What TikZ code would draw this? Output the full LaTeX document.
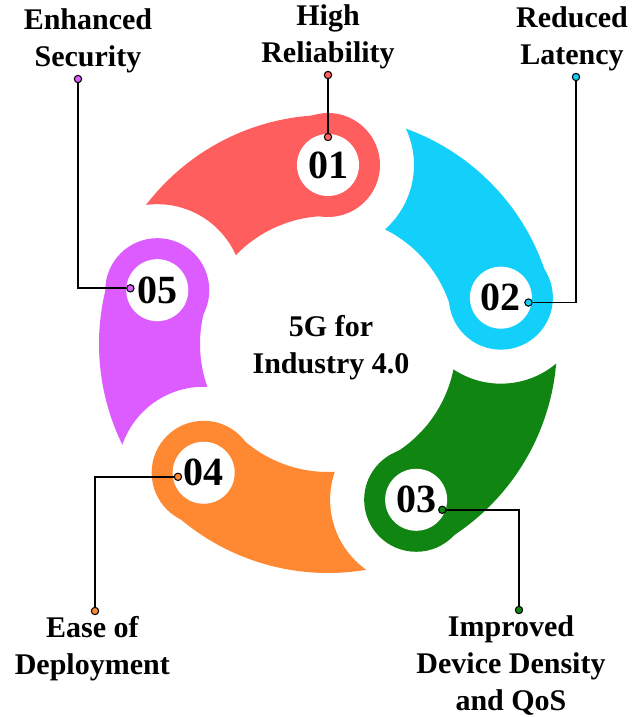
\documentclass[tikz,border=0pt]{standalone}
\usepackage{fontspec}
\setmainfont{Liberation Serif}
\usetikzlibrary{positioning}
\definecolor{pred}{HTML}{FF5E5E}
\definecolor{pcyan}{HTML}{12D0FA}
\definecolor{pgreen}{HTML}{118511}
\definecolor{porange}{HTML}{FF8833}
\definecolor{ppurple}{HTML}{DD5CFF}
\tikzset{
num/.style={circle, fill=white, minimum size=46.5pt, inner sep=0pt, font=\fontsize{30}{30}\selectfont\bfseries},
dot/.style={circle, draw=black, line width=0.8pt, minimum size=5.5pt, inner sep=0pt},
conn/.style={draw=black, line width=1.4pt},
lbl/.style={align=center, inner sep=0pt, font=\fontsize{22.5}{27.75}\selectfont\bfseries},
}
\newcommand\petal[3]{%
  \begin{scope}[even odd rule]
    \clip (-400,-420) rectangle (400,400) (#3:179) circle[radius=86];
    \fill[#1] (#2:229) arc[start angle=#2, end angle=#3, radius=229]
      -- (#3:128) arc[start angle=#3, end angle=#2, radius=128] -- cycle;
    \fill[#1] (#2:179) circle[radius=52];
  \end{scope}}

\begin{document}
\begin{tikzpicture}[x=0.75pt, y=0.75pt]
        \useasboundingbox (-328,-373) rectangle (315,344);

        \petal{pred}{90}{162.5}
        \petal{pcyan}{15}{90}
        \petal{pgreen}{-60.5}{15}
        \petal{porange}{-134}{-60.5}
        \petal{ppurple}{162.5}{226}

        \node[num] (n1) at (90:179) {01};
        \node[num] (n2) at (15:179) {02};
        \node[num] (n3) at (-60.5:179) {03};
        \node[num] (n4) at (-134:179) {04};
        \node[num] (n5) at (162.5:179) {05};

        \node[lbl] (hub) at (3,-4) {5G for\\Industry 4.0};

        \path (n1) ++(90:28) node[dot, fill=pred] (p1) {};
        \path (n2) ++(-10:28) node[dot, fill=pcyan] (p2) {};
        \path (n3) ++(-21:28) node[dot, fill=pgreen] (p3) {};
        \path (n4) ++(189:26) node[dot, fill=porange] (p4) {};
        \path (n5) ++(176:27) node[dot, fill=ppurple] (p5) {};

        \node[dot, fill=pred] (q1) at (0,269) {};
        \node[dot, fill=pcyan] (q2) at (248,267) {};
        \node[dot, fill=pgreen] (q3) at (191,-266) {};
        \node[dot, fill=porange] (q4) at (-233,-267) {};
        \node[dot, fill=ppurple] (q5) at (-250,265) {};

        \draw[conn] (p1) -- (q1);
        \draw[conn] (p2) -| (q2);
        \draw[conn] (p3) -| (q3);
        \draw[conn] (p4) -| (q4);
        \draw[conn] (p5) -| (q5);

        \node[lbl, above=1pt of q1] (l1) {High\\Reliability};
        \node[lbl, above=1pt of q2, xshift=-3pt] (l2) {Reduced\\Latency};
        \node[lbl, below=1pt of q3, xshift=-6pt] (l3) {Improved\\Device Density\\and QoS};
        \node[lbl, below=1pt of q4, xshift=-2pt] (l4) {Ease of\\Deployment};
        \node[lbl, above=1pt of q5, xshift=7.5pt] (l5) {Enhanced\\Security};
    \end{tikzpicture}
\end{document}
